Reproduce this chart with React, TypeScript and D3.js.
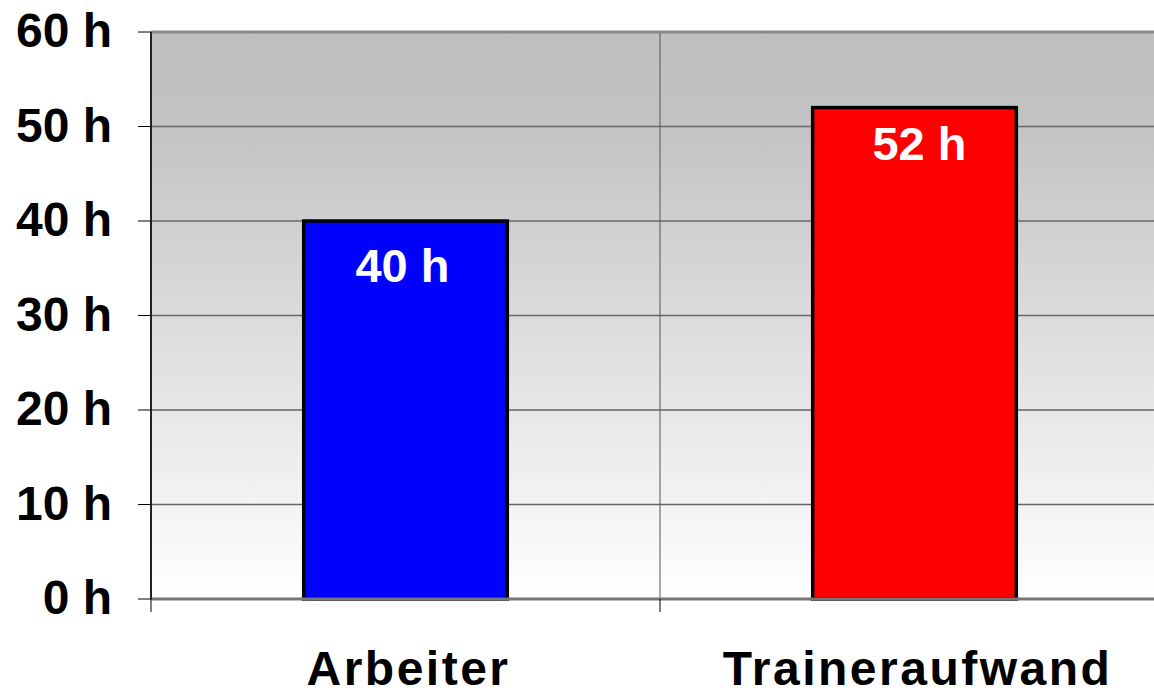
import React from 'react';
import * as d3 from 'd3';

const categories = ['Arbeiter', 'Traineraufwand'];
const hours = [40, 52];
const barColors = ['#0000ff', '#ff0000'];
const yTicks = [0, 10, 20, 30, 40, 50, 60];

const App = () => {
  const width = 1154;
  const height = 690;
  const margin = { top: 32, right: -15, bottom: 91, left: 151 };

  const x = d3.scaleBand()
    .domain(categories)
    .range([margin.left, width - margin.right])
    .paddingInner(0)
    .paddingOuter(0);

  const y = d3.scaleLinear()
    .domain([0, 60])
    .range([height - margin.bottom, margin.top]);

  const barW = x.bandwidth() * 0.4;
  const font = "'Liberation Sans', Arial, sans-serif";
  // label sits a bit further down in the shorter bar
  const labelDy = (i: number) => (i === 0 ? 61 : 52);
  const labelDx = (i: number) => (i === 0 ? -3 : 5);

  return (
    <svg width={width} height={height} style={{ position: 'absolute', left: 0, top: 0 }}>
      <defs>
        <linearGradient id="bg" x1="0" y1="0" x2="0" y2="1">
          <stop offset="0%" stopColor="#c0c0c0" />
          <stop offset="15%" stopColor="#c2c2c2" />
          <stop offset="100%" stopColor="#ffffff" />
        </linearGradient>
      </defs>

      {/* plot background */}
      <rect x={margin.left} y={margin.top} width={width - margin.right - margin.left}
        height={y(0) - margin.top} fill="url(#bg)" />

      {/* horizontal gridlines */}
      {yTicks.filter(t => t > 0 && t < 60).map(t => (
        <line key={t} x1={margin.left} x2={width} y1={y(t)} y2={y(t)} stroke="#666" strokeWidth={1.5} />
      ))}

      {/* vertical gridline between categories */}
      <line x1={x(categories[1])} x2={x(categories[1])} y1={margin.top} y2={y(0)} stroke="#555" strokeWidth={1} />

      {/* top border */}
      <line x1={margin.left} x2={width} y1={margin.top} y2={margin.top} stroke="#888" strokeWidth={3} />

      {/* bars */}
      {categories.map((c, i) => {
        const bx = x(c) + (x.bandwidth() - barW) / 2;
        return (
          <g key={c}>
            <rect x={bx} y={y(hours[i])} width={barW} height={y(0) - y(hours[i])}
              fill={barColors[i]} stroke="#000" strokeWidth={3.5} />
            <text x={bx + barW / 2 + labelDx(i)} y={y(hours[i]) + labelDy(i)} textAnchor="middle" fill="#fff"
              fontFamily={font} fontWeight="bold" fontSize={47}>{hours[i]} h</text>
          </g>
        );
      })}

      {/* axes */}
      <line x1={margin.left} x2={width} y1={y(0)} y2={y(0)} stroke="#777" strokeWidth={3} />
      <line x1={margin.left} x2={margin.left} y1={margin.top} y2={y(0)} stroke="#222" strokeWidth={2} />

      {/* y ticks and labels */}
      {yTicks.map(t => (
        <g key={t}>
          <line x1={margin.left - 13} x2={margin.left} y1={y(t)} y2={y(t)} stroke="#000" strokeWidth={1} />
          <text x={112} y={y(t) + 15} textAnchor="end" fill="#000" fontFamily={font}
            fontWeight="bold" fontSize={48}>{t} h</text>
        </g>
      ))}

      {/* x ticks */}
      {categories.map(c => (
        <line key={c} x1={x(c)} x2={x(c)} y1={y(0)} y2={y(0) + 13} stroke="#000" strokeWidth={1} />
      ))}

      {/* category labels */}
      {categories.map(c => (
        <text key={c} x={x(c) + x.bandwidth() / 2 + 3} y={685} textAnchor="middle" fill="#000"
          fontFamily={font} fontWeight="bold" fontSize={48} letterSpacing={2.5}>{c}</text>
      ))}
    </svg>
  );
};

export default App;
